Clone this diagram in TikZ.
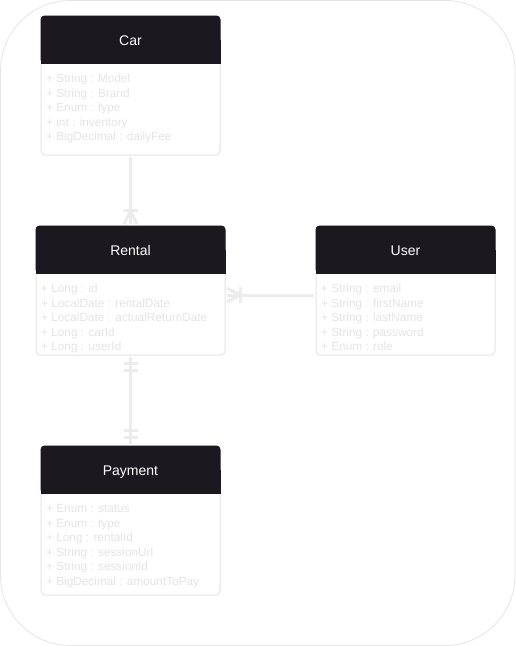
\documentclass[tikz,border=0pt]{standalone}
\usepackage{fontspec}
\setmainfont{Liberation Sans}
\usetikzlibrary{positioning}
\definecolor{hdrdark}{RGB}{27,24,32}
\definecolor{boxgray}{RGB}{228,228,228}
\definecolor{attrgray}{RGB}{228,228,228}
\definecolor{linkgray}{RGB}{236,236,236}
\tikzstyle{classbox} = [draw=boxgray, line width=1pt, fill=white, rounded corners=4pt, minimum width=179pt, inner sep=0pt]
\tikzstyle{attrs} = [anchor=base west, inner sep=0pt, text=attrgray, font=\fontsize{11.8}{14.5}\selectfont]
\tikzstyle{title} = [anchor=base, text=white, font=\fontsize{14}{16}\selectfont, inner sep=0pt]
\tikzstyle{link} = [line width=3pt, color=linkgray, line join=round, shorten <=1.5pt, shorten >=1.5pt]
\tikzstyle{bar} = [line width=3pt, color=linkgray]

\begin{document}
\begin{tikzpicture}[x=1pt, y=-1pt]
\useasboundingbox (0,0) rectangle (516,646);
% Frame
\draw[boxgray, line width=0.8pt, rounded corners=70pt] (0.5,0.5) rectangle (515,645.5);

% Classes
\node[classbox, minimum height=139pt] (car) at (130.5,85.5) {};
\node[classbox, minimum width=189pt, minimum height=129pt] (rental) at (130.5,290.5) {};
\node[classbox, minimum height=129pt] (user) at (405.5,290.5) {};
\node[classbox, minimum height=149pt] (payment) at (130.5,520.5) {};

% Headers
\foreach \c/\t in {car/Car, rental/Rental, user/User, payment/Payment} {
  \fill[hdrdark, rounded corners=4pt] (\c.north west) rectangle ([yshift=-48pt]\c.north east);
  \fill[hdrdark] ([yshift=-24pt]\c.north west) rectangle ([yshift=-48pt]\c.north east);
  \node[title] (\c-title) at ([yshift=-29.5pt]\c.north) {\t};
}

% Attributes
\foreach \a [count=\i] in {+ String : Model, + String : Brand, + Enum : type, + int : inventory, + BigDecimal : dailyFee}
  \node[attrs] (car-a\i) at ([xshift=5.5pt, yshift=-52.5pt-\i*14.5pt]car.north west) {\a};
\foreach \a [count=\i] in {+ Long : id, + LocalDate : rentalDate, + LocalDate : actualReturnDate, + Long : carId, + Long : userId}
  \node[attrs] (rental-a\i) at ([xshift=5.5pt, yshift=-52.5pt-\i*14.5pt]rental.north west) {\a};
\foreach \a [count=\i] in {+ String : email, + String : firstName, + String : lastName, + String : password, + Enum : role}
  \node[attrs] (user-a\i) at ([xshift=5.5pt, yshift=-52.5pt-\i*14.5pt]user.north west) {\a};
\foreach \a [count=\i] in {+ Enum : status, + Enum : type, + Long : rentalId, + String : sessionUrl, + String : sessionId, + BigDecimal : amountToPay}
  \node[attrs] (payment-a\i) at ([xshift=5.5pt, yshift=-52.5pt-\i*14.5pt]payment.north west) {\a};

% Car -- Rental
\draw[link] (car.south) -- (rental.north);
\draw[link] ([xshift=-7pt]rental.north) -- ([yshift=15pt]rental.north) -- ([xshift=7pt]rental.north);
\draw[bar] ([xshift=-7pt, yshift=15pt]rental.north) -- ([xshift=7pt, yshift=15pt]rental.north);

% Rental -- User
\draw[link] ([yshift=-4.5pt]user.west) -- ([yshift=-4.5pt]rental.east);
\draw[link] ([yshift=3pt]rental.east) -- ([xshift=15pt, yshift=-4.5pt]rental.east) -- ([yshift=-12pt]rental.east);
\draw[bar] ([xshift=15pt, yshift=3.5pt]rental.east) -- ([xshift=15pt, yshift=-12.5pt]rental.east);

% Rental -- Payment
\draw[link] (rental.south) -- (payment.north);
\foreach \d in {8,15} {
  \draw[bar] ([xshift=-7pt, yshift=-\d pt]rental.south) -- ([xshift=7pt, yshift=-\d pt]rental.south);
  \draw[bar] ([xshift=-7pt, yshift=\d pt]payment.north) -- ([xshift=7pt, yshift=\d pt]payment.north);
}
\end{tikzpicture}
\end{document}
